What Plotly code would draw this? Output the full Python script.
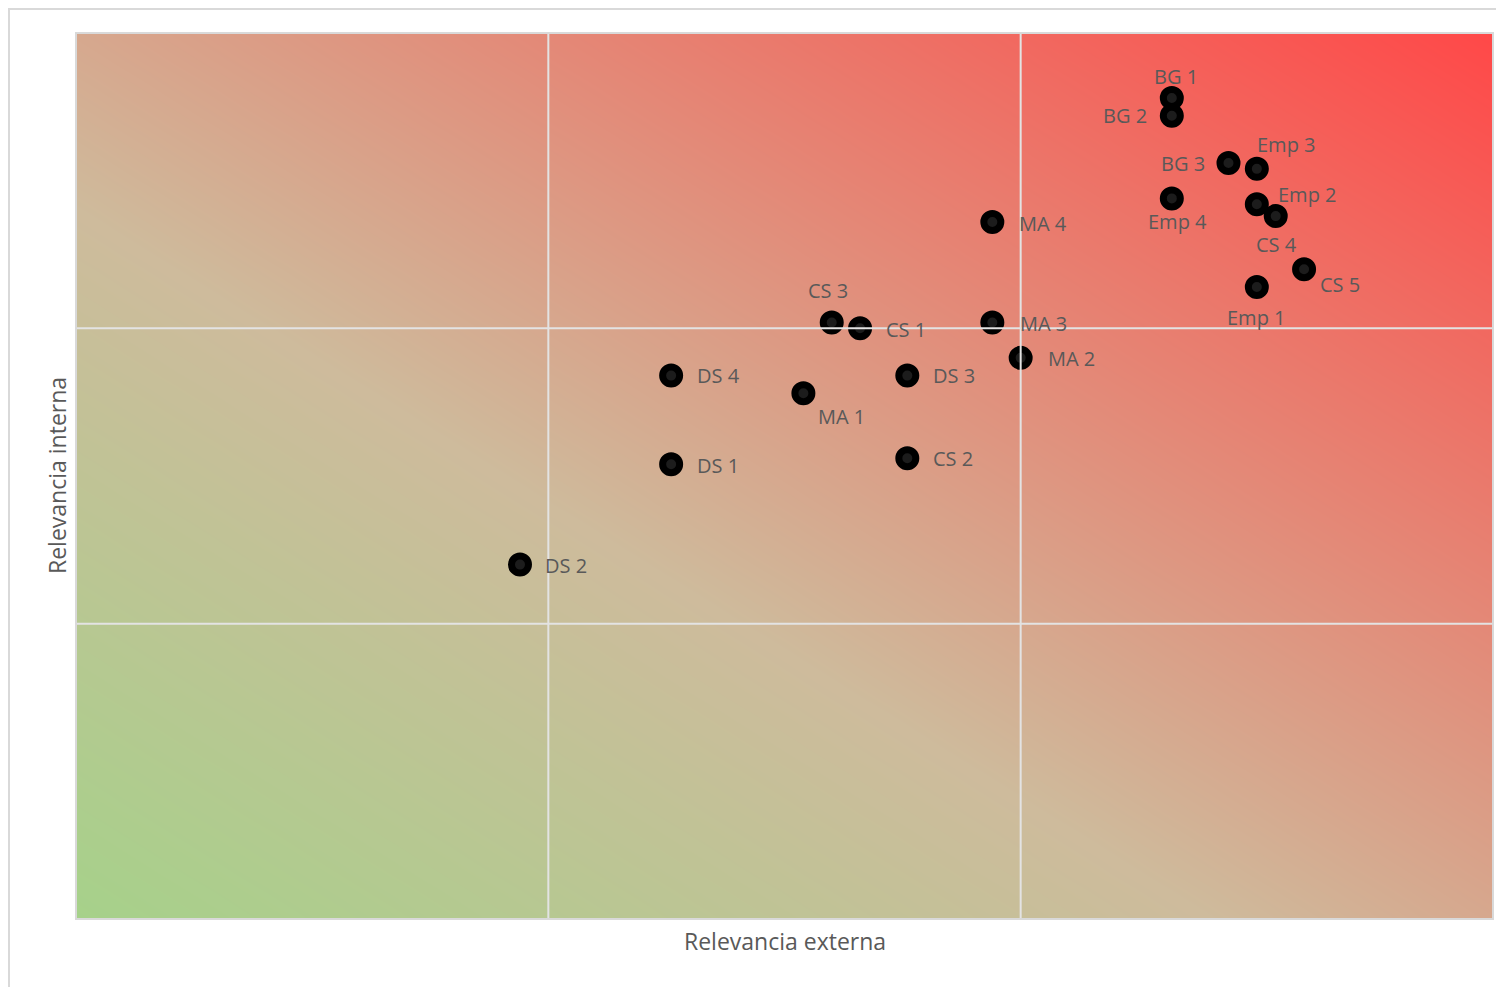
import numpy as np
import plotly.graph_objects as go

# ---- data ----
labels = ["BG 1", "BG 2", "BG 3", "Emp 3", "Emp 4", "Emp 2", "CS 4", "MA 4", "CS 5", "Emp 1",
          "CS 3", "CS 1", "MA 3", "MA 2", "DS 4", "DS 3", "MA 1", "DS 1", "CS 2", "DS 2"]
relevancia_externa = [2.32, 2.32, 2.44, 2.50, 2.32, 2.50, 2.54, 1.94, 2.60, 2.50,
                      1.60, 1.66, 1.94, 2.00, 1.26, 1.76, 1.54, 1.26, 1.76, 0.94]
relevancia_interna = [2.78, 2.72, 2.56, 2.54, 2.44, 2.42, 2.38, 2.36, 2.20, 2.14,
                      2.02, 2.00, 2.02, 1.90, 1.84, 1.84, 1.78, 1.54, 1.56, 1.20]
axis_range = [0, 3]
grid_lines = [1, 2]

# label offsets (pixels, label centre relative to marker)
label_dx = [4, -47, -45, 30, 6, 51, 1, 51, 36, 0, -4, 46, 51, 51, 47, 47, 38, 47, 46, 46]
label_dy = [-21, 0, 1, -24, 23, -10, 28, 1, 15, 31, -32, 1, 1, 1, 0, 0, 23, 1, 0, 1]

FONT = "Open Sans"
TXT = "#595959"

fig = go.Figure()

# gradient background
g = np.linspace(axis_range[0], axis_range[1], 61)
gx, gy = np.meshgrid(g, g)
span = axis_range[1] - axis_range[0]
t = ((gx - axis_range[0]) / span + (gy - axis_range[0]) / span) / 2
fig.add_trace(go.Heatmap(
    x=g, y=g, z=t, zmin=0, zmax=1, zsmooth="best", showscale=False, hoverinfo="skip",
    colorscale=[[0, "#a6d18a"], [0.4, "#cebb9c"], [1, "#ff4848"]],
))

fig.add_trace(go.Scatter(
    x=relevancia_externa, y=relevancia_interna, mode="markers",
    marker=dict(size=17, color="#1c1c1c", line=dict(color="#000000", width=7)),
    hoverinfo="text", text=labels, showlegend=False,
))

for lab, xv, yv, dx, dy in zip(labels, relevancia_externa, relevancia_interna, label_dx, label_dy):
    fig.add_annotation(x=xv, y=yv, text=lab, showarrow=False, xanchor="center", yanchor="middle",
                       xshift=dx, yshift=-dy, font=dict(family=FONT, size=20, color=TXT))

shapes = []
for v in grid_lines:
    shapes.append(dict(type="line", xref="x", yref="paper", x0=v, x1=v, y0=0, y1=1,
                       line=dict(color="#e3e3e3", width=2), layer="above"))
    shapes.append(dict(type="line", xref="paper", yref="y", x0=0, x1=1, y0=v, y1=v,
                       line=dict(color="#e3e3e3", width=2), layer="above"))
shapes.append(dict(type="rect", xref="paper", yref="paper", x0=0, x1=1, y0=0, y1=1,
                   line=dict(color="#d9d9d9", width=2), layer="above"))
shapes.append(dict(type="rect", xref="paper", yref="paper", x0=-0.0473, x1=1.03, y0=-0.12, y1=1.0272,
                   line=dict(color="#d9d9d9", width=2), layer="above"))
fig.update_layout(shapes=shapes)

fig.add_annotation(text="Relevancia externa", xref="paper", yref="paper", x=0.5, y=0,
                   yanchor="middle", yshift=-22, showarrow=False,
                   font=dict(family=FONT, size=23, color=TXT))
fig.add_annotation(text="Relevancia interna", xref="paper", yref="paper", x=0, y=0.5,
                   xanchor="center", xshift=-19, textangle=-90, showarrow=False,
                   font=dict(family=FONT, size=23, color=TXT))

fig.update_xaxes(range=axis_range, showgrid=False, zeroline=False, showticklabels=False, ticks="")
fig.update_yaxes(range=axis_range, showgrid=False, zeroline=False, showticklabels=False, ticks="")
fig.update_layout(
    width=1496, height=979, autosize=False,
    margin=dict(l=68, r=11, t=25, b=68),
    paper_bgcolor="white", plot_bgcolor="white",
    showlegend=False,
)

fig.write_html("out.html")
